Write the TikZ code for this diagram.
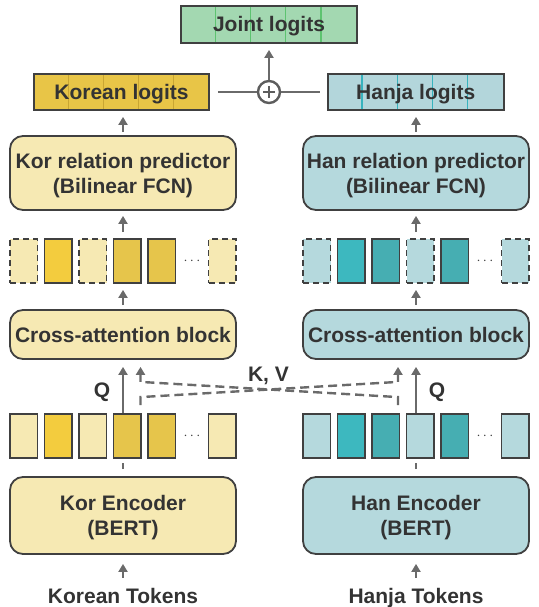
\documentclass[tikz,border=0pt]{standalone}
\usepackage{fontspec}
\setmainfont{Liberation Sans}
\usetikzlibrary{arrows.meta,calc}
\definecolor{cbd}{HTML}{404040}
\definecolor{ctx}{HTML}{333333}
\definecolor{car}{HTML}{6A6A6A}
\definecolor{cly}{HTML}{F6E9B3}
\definecolor{cby}{HTML}{F3CC3E}
\definecolor{cgy}{HTML}{E6C54B}
\definecolor{ckl}{HTML}{E8C547}
\definecolor{ckd}{HTML}{C9A633}
\definecolor{clt}{HTML}{B5D9DD}
\definecolor{cbt}{HTML}{3DB8BF}
\definecolor{ctt}{HTML}{46AEB2}
\definecolor{chl}{HTML}{B3D6DB}
\definecolor{chd}{HTML}{37B3BE}
\definecolor{cjl}{HTML}{A3D8B1}
\definecolor{cjd}{HTML}{5DC370}
\tikzset{
  txt/.style={text=ctx, font=\bfseries\fontsize{21}{25}\selectfont},
  box/.style={txt, draw=cbd, line width=1.8pt, rounded corners=13pt, align=center, inner sep=0pt, minimum width=226pt, text depth=0pt},
  tokbox/.style={draw=cbd, line width=1.8pt, minimum width=27.5pt, minimum height=44pt, inner sep=0pt},
  dtok/.style={tokbox, dash pattern=on 6pt off 4pt},
  logit/.style={txt, draw=cbd, line width=1.8pt, minimum width=175pt, minimum height=36pt, inner sep=0pt, text height=15pt, text depth=0pt},
  arr/.style={draw=car, line width=2.2pt, -{Triangle[width=9pt,length=8pt]}},
  conn/.style={draw=car, line width=2.4pt},
  kvline/.style={draw=car, line width=2.4pt, dash pattern=on 9pt off 5pt, -{Triangle[width=9pt,length=8pt]}},
  dotsn/.style={text=cbd, inner sep=0pt, font=\fontsize{14}{14}\selectfont},
  oplusn/.style={circle, draw=cbd!85, line width=2.4pt, fill=white, minimum size=22pt, inner sep=0pt,
    path picture={\draw[line width=1.5pt, draw=cbd!85]
      ([xshift=-6pt]path picture bounding box.center) -- ([xshift=6pt]path picture bounding box.center)
      ([yshift=-6pt]path picture bounding box.center) -- ([yshift=6pt]path picture bounding box.center);}},
  lbl/.style={txt, inner sep=0pt, anchor=base}
}
\begin{document}
\begin{tikzpicture}[x=1pt,y=-1pt]
\useasboundingbox (0,0) rectangle (538,607);

% logits
\node[logit, fill=cjl, minimum width=176pt, minimum height=37pt] (joint) at (269,24.5) {};
\node[logit, fill=ckl] (klog) at (121.5,92) {};
\node[logit, fill=chl, minimum width=176pt] (hlog) at (415.7,92) {};
\foreach \i in {1,...,4} {
  \draw[draw=cjd, line width=1.2pt, shorten <=0.9pt, shorten >=0.9pt] ($(joint.north west)+(35.2*\i,0)$) -- ($(joint.south west)+(35.2*\i,0)$);
  \draw[draw=ckd, line width=1.2pt, shorten <=0.9pt, shorten >=0.9pt] ($(klog.north west)+(35*\i,0)$) -- ($(klog.south west)+(35*\i,0)$);
  \draw[draw=chd, line width=1.2pt, shorten <=0.9pt, shorten >=0.9pt] ($(hlog.north west)+(35.2*\i,0)$) -- ($(hlog.south west)+(35.2*\i,0)$);
}
\node[logit, fill=none, minimum width=176pt, minimum height=37pt] (jointb) at (joint.center) {Joint logits};
\node[logit, fill=none] (klogb) at (klog.center) {Korean logits};
\node[logit, fill=none, minimum width=176pt] (hlogb) at (hlog.center) {Hanja logits};
\node[oplusn] (plus) at (269,92) {};

% predictors
\node[box, fill=cly, minimum height=74pt] (kpred) at (123,173) {Kor relation predictor\\(Bilinear FCN)};
\node[box, fill=clt, minimum height=74pt] (hpred) at (416,173) {Han relation predictor\\(Bilinear FCN)};

% middle rows
\foreach \i/\x/\f/\s in {1/23.75/cly/dtok, 2/58.25/cby/tokbox, 3/92.75/cly/dtok, 4/127.25/cgy/tokbox, 5/161.75/cgy/tokbox, 6/222.25/cly/dtok}
  \node[\s, fill=\f] (km\i) at (\x,261) {};
\foreach \i/\x/\f/\s in {1/316.75/clt/dtok, 2/351.25/cbt/tokbox, 3/385.75/ctt/tokbox, 4/420.25/clt/dtok, 5/454.75/ctt/tokbox, 6/515.25/clt/dtok}
  \node[\s, fill=\f] (hm\i) at (\x,261) {};
\node[dotsn] (kmd) at (192,261) {$\cdots$};
\node[dotsn] (hmd) at (485,261) {$\cdots$};

% cross attention
\node[box, fill=cly, minimum height=49pt] (kca) at (123,334.5) {Cross-attention block};
\node[box, fill=clt, minimum height=49pt] (hca) at (416,334.5) {Cross-attention block};

% token rows
\foreach \i/\x/\f in {1/23.75/cly, 2/58.25/cby, 3/92.75/cly, 4/127.25/cgy, 5/161.75/cgy, 6/222.25/cly}
  \node[tokbox, fill=\f] (kt\i) at (\x,436) {};
\foreach \i/\x/\f in {1/316.75/clt, 2/351.25/cbt, 3/385.75/ctt, 4/420.25/clt, 5/454.75/ctt, 6/515.25/clt}
  \node[tokbox, fill=\f] (ht\i) at (\x,436) {};
\node[dotsn] (ktd) at (192,436) {$\cdots$};
\node[dotsn] (htd) at (485,436) {$\cdots$};

% encoders
\node[box, fill=cly, minimum height=77pt] (kenc) at (123,515.5) {Kor Encoder\\(BERT)};
\node[box, fill=clt, minimum height=77pt] (henc) at (416,515.5) {Han Encoder\\(BERT)};

% labels
\node[lbl, text height=15pt, text depth=0pt] (ktl) at (123,603.5) {Korean Tokens};
\node[lbl, text height=15pt, text depth=0pt] (htl) at (416,603.5) {Hanja Tokens};
\node[lbl] (kq) at (102,397) {Q};
\node[lbl] (hq) at (437,397) {Q};
\node[lbl] (kvl) at (268.5,381) {K, V};

% arrows, both columns
\foreach \c in {k,h} {
  \draw[arr, shorten <=10.5pt, shorten >=9pt] (\c tl.north) -- (\c enc.south);
  \draw[conn, line width=2.2pt, shorten <=7pt, shorten >=4pt] (\c enc.north) -- (\c enc.north |- \c t4.south);
  \draw[arr, shorten >=7pt] (\c ca.south |- \c t4.north) -- (\c ca.south);
  \draw[arr, shorten <=4pt, shorten >=6pt] (\c ca.north) -- (\c ca.north |- \c m4.south);
  \draw[arr, shorten <=6pt, shorten >=5pt] (\c ca.north |- \c m4.north) -- (\c pred.south);
  \draw[arr, shorten <=3pt, shorten >=6pt] (\c pred.north) -- (\c pred.north |- \c log.south);
}

% sum
\draw[conn, shorten <=8pt] (klog.east) -- (plus.west);
\draw[conn, shorten >=6.5pt] (plus.east) -- (hlog.west);
\draw[arr, shorten >=6pt] (plus.north) -- (joint.south);

% K, V cross connections
\coordinate (ka) at ($(kca.south)+(17.5,0)$);
\coordinate (ha) at ($(hca.south)+(-18,0)$);
\draw[kvline] ($(ka |- kt4.north)+(0,-8)$) -- ($(ka |- kt4.north)+(0,-16)$) -- ($(ha)+(0,22)$) -- ($(ha)+(0,7)$);
\draw[kvline] ($(ha |- ht4.north)+(0,-8)$) -- ($(ha |- ht4.north)+(0,-16)$) -- ($(ka)+(0,22)$) -- ($(ka)+(0,7)$);
\end{tikzpicture}
\end{document}
